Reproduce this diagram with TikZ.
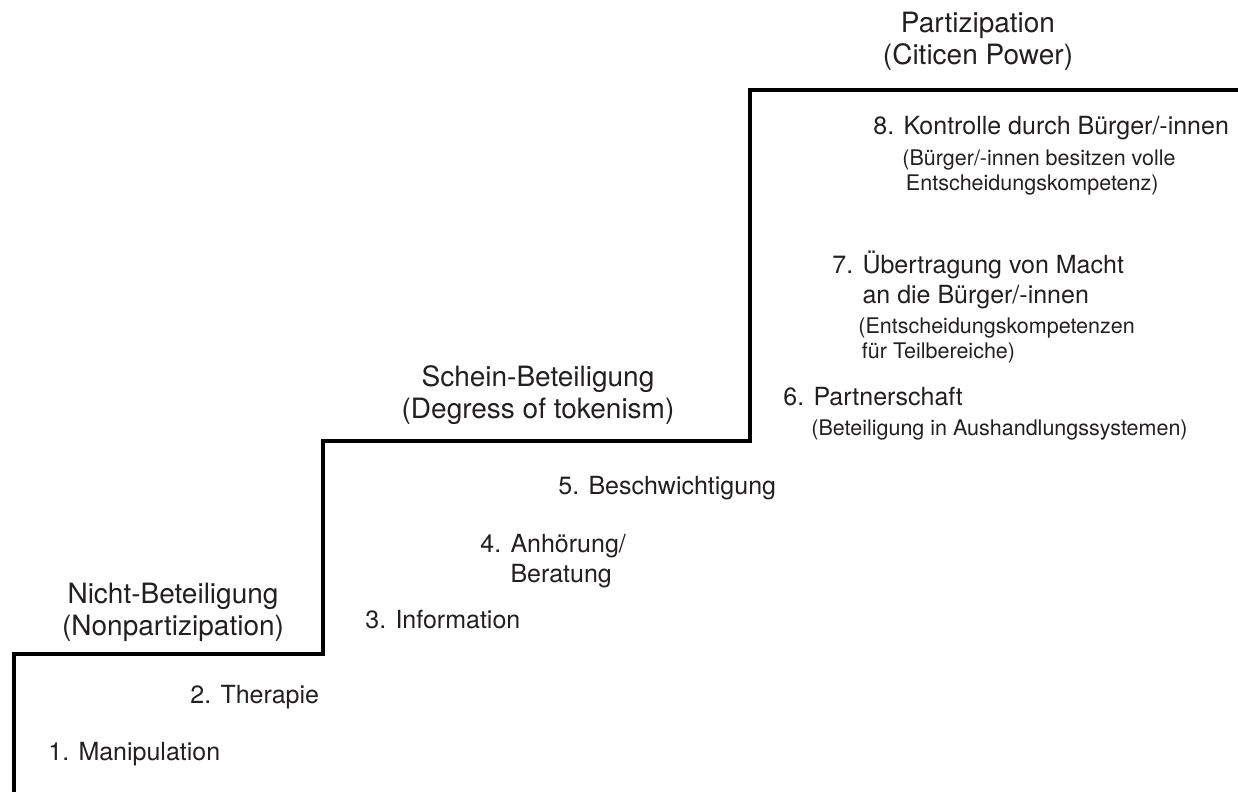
\documentclass[tikz,border=0pt]{standalone}
\usepackage{fontspec}
\setmainfont{TeX Gyre Heros}
\usepackage{tikz}
\usetikzlibrary{positioning}
\definecolor{Ink}{HTML}{231F20}

\begin{document}
\begin{tikzpicture}[x=0.5pt,y=-0.5pt,
        hd/.style={align=center,inner sep=0pt,anchor=base,text=Ink,font=\fontsize{14}{16}\selectfont},
        st/.style={align=left,inner sep=0pt,anchor=base west,text=Ink,font=\fontsize{12.5}{14.8}\selectfont},
        sb/.style={align=left,inner sep=0pt,anchor=base west,text=Ink,font=\fontsize{10.75}{12.5}\selectfont},
        stair/.style={line width=1.8pt,draw=black}]
        \useasboundingbox (0,0) rectangle (1238,792);
        % the three levels of the ladder
        \draw[stair] (14,800) |- (323,654) |- (750,441) |- (1245,90);
        \node[hd] (h1) at (173,635) {Nicht-Beteiligung\\(Nonpartizipation)};
        \node[hd] (h2) at (538,418) {Schein-Beteiligung\\(Degress of tokenism)};
        \node[hd] (h3) at (978,65) {Partizipation\\(Citicen Power)};
        % rungs 1-8
        \node[st] (s1) at (48,760) {1. Manipulation};
        \node[st] (s2) at (190,703) {2. Therapie};
        \node[st] (s3) at (365,628) {3. Information};
        \node[st] (s4) at (480,582) {4. Anhörung/\\\phantom{4. }Beratung};
        \node[st] (s5) at (558,494) {5. Beschwichtigung};
        \node[st] (s6) at (783,405) {6. Partnerschaft};
        \node[sb] (b6) at (811,435) {(Beteiligung in Aushandlungssystemen)};
        \node[st] (s7) at (832,303) {7. Übertragung von Macht\\\phantom{7. }an die Bürger/-innen};
        \node[sb] (b7) at (858,358) {(Entscheidungskompetenzen\\\,für Teilbereiche)};
        \node[st] (s8) at (873,135) {8. Kontrolle durch Bürger/-innen};
        \node[sb] (b8) at (902,191) {(Bürger/-innen besitzen volle\\\,Entscheidungskompetenz)};
      \end{tikzpicture}
\end{document}
